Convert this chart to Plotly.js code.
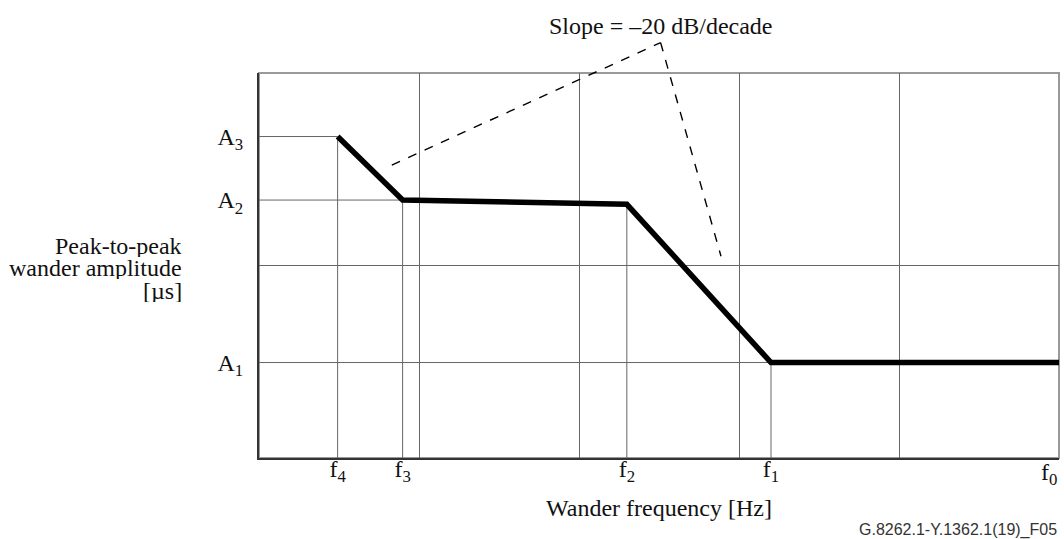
<!DOCTYPE html>
<html>
<head>
<meta charset="utf-8">
<script src="https://cdn.plot.ly/plotly-3.0.1.min.js"></script>
<style>
  html, body { margin: 0; padding: 0; background: #ffffff; }
  #chart { width: 1064px; height: 539px; }
</style>
</head>
<body>
<div id="chart"></div>
<script>
// ---- data ----
const freqLabels = ['f<sub>4</sub>', 'f<sub>3</sub>', 'f<sub>2</sub>', 'f<sub>1</sub>', 'f<sub>0</sub>'];
const freqValues = [3.1, 7.9, 199, 1585, 100000];          // wander frequency breakpoints (log axis)
const maskAmplitude = [83.5, 67.0, 65.9, 24.8, 24.8];      // peak-to-peak amplitude at each breakpoint
const ampLabels = ['A<sub>1</sub>', 'A<sub>2</sub>', 'A<sub>3</sub>'];
const ampValues = [24.8, 67.0, 83.5];
const decadeGrid = [10, 100, 1000, 10000];
const midGrid = [50];
const xRange = [1, 100000];
const yRange = [0, 100];
const slopeText = 'Slope = \u201320 dB/decade';
const slopePointerX = [0.166, 0.502, 0.5775];              // paper coords of the dashed leader lines
const slopePointerY = [0.761, 1.079, 0.524];
const yTitleLines = ['Peak-to-peak', 'wander amplitude', '[\u00b5s]'];
const xTitle = 'Wander frequency [Hz]';
const footer = 'G.8262.1-Y.1362.1(19)_F05';

const serif = '"Liberation Serif", "Times New Roman", serif';
const gridColor = '#666666';

const traces = [];
// vertical drop lines from the axis up to each breakpoint (except f0 at the edge)
for (let i = 0; i < 4; i++) {
  traces.push({
    x: [freqValues[i], freqValues[i]], y: [yRange[0], maskAmplitude[i]],
    mode: 'lines', line: {color: gridColor, width: 1}, hoverinfo: 'skip'
  });
}
// horizontal reference lines
traces.push({x: [xRange[0], freqValues[0]], y: [ampValues[2], ampValues[2]],
  mode: 'lines', line: {color: gridColor, width: 1}, hoverinfo: 'skip'});
traces.push({x: [xRange[0], freqValues[1]], y: [ampValues[1], ampValues[1]],
  mode: 'lines', line: {color: gridColor, width: 1}, hoverinfo: 'skip'});
traces.push({x: [xRange[0], xRange[1]], y: [ampValues[0], ampValues[0]],
  mode: 'lines', line: {color: gridColor, width: 1}, hoverinfo: 'skip'});
traces.push({x: [xRange[0], xRange[1]], y: [midGrid[0], midGrid[0]],
  mode: 'lines', line: {color: gridColor, width: 1}, hoverinfo: 'skip'});
// the mask curve
traces.push({
  x: freqValues, y: maskAmplitude, mode: 'lines',
  line: {color: '#000000', width: 5.5}, hoverinfo: 'skip'
});

const annotations = [
  {xref: 'paper', yref: 'paper', x: 0.502, y: 1.122, text: slopeText, showarrow: false,
   xanchor: 'center', yanchor: 'middle', font: {family: serif, size: 24, color: '#111'}},
  {xref: 'x', yref: 'paper', x: Math.log10(freqValues[4]), y: 0.003, text: freqLabels[4], showarrow: false,
   xanchor: 'right', yanchor: 'top', font: {family: serif, size: 24, color: '#111'}},
  {xref: 'paper', yref: 'paper', x: 1.0, y: -0.188, text: footer, showarrow: false,
   xanchor: 'right', yanchor: 'middle', font: {family: '"Liberation Sans", Arial, sans-serif', size: 16, color: '#333'}}
];
const yTitleCenters = [0.551, 0.493, 0.435];
yTitleLines.forEach((t, i) => annotations.push({
  xref: 'paper', yref: 'paper', x: -0.095, y: yTitleCenters[i], text: t, showarrow: false,
  xanchor: 'right', yanchor: 'middle', align: 'right', valign: 'middle', height: 22, borderpad: 0,
  font: {family: serif, size: 24, color: '#111'}
}));

const shapes = [
  {type: 'rect', xref: 'paper', yref: 'paper', x0: 0, x1: 1, y0: 0, y1: 1,
   line: {color: '#9a9a9a', width: 2}, layer: 'below'},
  {type: 'line', xref: 'paper', yref: 'paper', x0: slopePointerX[0], y0: slopePointerY[0],
   x1: slopePointerX[1], y1: slopePointerY[1], line: {color: '#000', width: 1.4, dash: 'dash'}},
  {type: 'line', xref: 'paper', yref: 'paper', x0: slopePointerX[1], y0: slopePointerY[1],
   x1: slopePointerX[2], y1: slopePointerY[2], line: {color: '#000', width: 1.4, dash: 'dash'}}
];

const layout = {
  width: 1064, height: 539,
  margin: {l: 259, r: 5, t: 73, b: 81, pad: 0},
  paper_bgcolor: '#ffffff', plot_bgcolor: '#ffffff',
  showlegend: false,
  font: {family: serif, size: 24, color: '#111'},
  xaxis: {
    type: 'log', range: [Math.log10(xRange[0]), Math.log10(xRange[1])],
    tickmode: 'array', tickvals: freqValues.slice(0, 4), ticktext: freqLabels.slice(0, 4),
    showgrid: false, zeroline: false, ticks: '',
    showline: true, linecolor: '#333', linewidth: 2,
    ticklabelstandoff: -12,
    tickfont: {family: serif, size: 24, color: '#111'},
    minor: {tickmode: 'array', tickvals: decadeGrid, showgrid: true, gridcolor: gridColor, gridwidth: 1, ticks: ''},
    title: {text: xTitle, font: {family: serif, size: 24, color: '#111'}, standoff: 14},
    automargin: false, fixedrange: true
  },
  yaxis: {
    range: yRange,
    tickmode: 'array', tickvals: ampValues, ticktext: ampLabels,
    showgrid: false, zeroline: false, ticks: '',
    showline: true, linecolor: '#333', linewidth: 2,
    ticklabelstandoff: 9,
    tickfont: {family: serif, size: 24, color: '#111'},
    automargin: false, fixedrange: true
  },
  annotations: annotations,
  shapes: shapes
};

Plotly.newPlot('chart', traces, layout, {staticPlot: true, displayModeBar: false});
</script>
</body>
</html>
